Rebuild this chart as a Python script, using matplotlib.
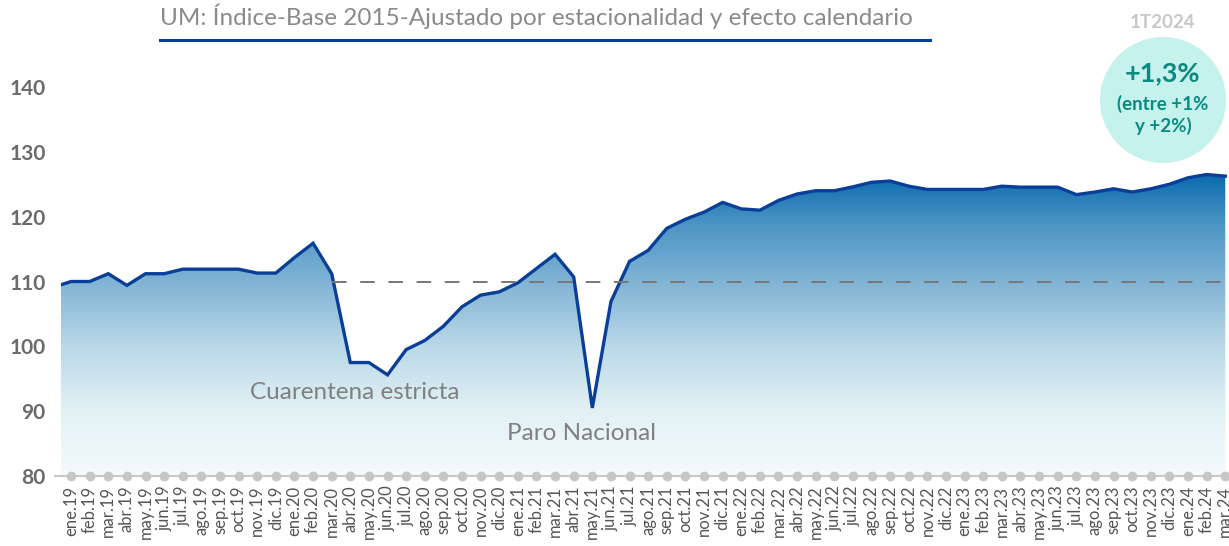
import numpy as np
import matplotlib
matplotlib.use("Agg")
import matplotlib.pyplot as plt
from matplotlib.colors import LinearSegmentedColormap
from matplotlib.patches import Ellipse

months = ["ene", "feb", "mar", "abr", "may", "jun", "jul", "ago", "sep", "oct", "nov", "dic"]
labels = [f"{m}.{y}" for y in ["19", "20", "21", "22", "23", "24"] for m in months][:63]

values = [110.0, 110.0, 111.2, 109.4, 111.2, 111.2, 111.9, 111.9, 111.9, 111.9, 111.3, 111.3,
          113.7, 115.9, 111.2, 97.5, 97.5, 95.6, 99.5, 100.9, 103.1, 106.1, 107.9, 108.4,
          109.8, 112.0, 114.2, 110.7, 90.5, 106.9, 113.1, 114.8, 118.2, 119.6, 120.7, 122.2,
          121.2, 121.0, 122.5, 123.5, 124.0, 124.0, 124.6, 125.3, 125.5, 124.7, 124.2, 124.2,
          124.2, 124.2, 124.7, 124.55, 124.55, 124.55, 123.4, 123.8, 124.3, 123.8, 124.3, 125.0,
          126.0, 126.5, 126.25]
edge_left = 109.5   # value where the line meets the left edge of the plot
ref_level = 110

yticks = [80, 90, 100, 110, 120, 130, 140]

fig = plt.figure(figsize=(12.29, 5.46), dpi=100)
ax = fig.add_axes([61 / 1229, 1 - 476 / 546, 1 - 61 / 1229, (476 - 87) / 546])

x0, x1 = -0.54, 62.2
xs = np.concatenate([[x0], np.arange(len(values))])
ys = np.concatenate([[edge_left], values])

# gradient area
cmap = LinearSegmentedColormap.from_list("area", [
    (0.0, "#f4fbfb"), (0.2, "#e2f1f4"), (0.4, "#b9d8e8"),
    (0.6, "#80b3d4"), (0.78, "#4a94c4"), (0.93, "#0a6aad"), (1.0, "#0565a9")])
grad = np.linspace(0, 1, 256).reshape(-1, 1)
poly = ax.fill_between(xs, 80, ys, facecolor="none", edgecolor="none")
im = ax.imshow(grad, extent=[x0, x1, 80, 130], origin="lower", aspect="auto",
               cmap=cmap, zorder=1)
im.set_clip_path(poly.get_paths()[0], transform=ax.transData)

ax.plot(xs, ys, color="#0a3f99", lw=2.4, zorder=3, solid_joinstyle="miter")

ax.hlines(ref_level, 14, x1, colors="#777777", linestyles=(0, (7.5, 7)), lw=1.4, zorder=4)

ax.plot([x0 - 0.3, x1], [80, 80], color="#c8c8c8", lw=1.5, zorder=4, clip_on=False)
ax.plot(np.arange(len(values)), [80] * len(values), "o", color="#c6c6c6", ms=6,
        zorder=5, clip_on=False)

ax.set_xlim(x0, x1)
ax.set_ylim(80, 140)
ax.set_yticks(yticks)
ax.set_yticklabels([str(v) for v in yticks], fontsize=15, fontweight="bold",
                   color="#6b6b6b", family="Lato")
ax.set_xticks(np.arange(len(labels)))
ax.set_xticklabels(labels, rotation=90, fontsize=12, color="#555555", family="Lato")
ax.tick_params(axis="both", length=0)
ax.tick_params(axis="y", pad=11)
ax.tick_params(axis="x", pad=7)
for s in ax.spines.values():
    s.set_visible(False)
ax.patch.set_alpha(0)

ax.text(9.6, 92.9, "Cuarentena estricta", fontsize=17.5, color="#808080",
        family="Lato", va="center", ha="left")
ax.text(23.4, 86.5, "Paro Nacional", fontsize=17.5, color="#808080",
        family="Lato", va="center", ha="left")

# title and rule
fig.text(160 / 1229, 1 - 16 / 546, "UM: Índice-Base 2015-Ajustado por estacionalidad y efecto calendario",
         fontsize=17.5, color="#8a8a8a", family="Lato", ha="left", va="center")
fig.add_artist(plt.Line2D([160 / 1229, 930 / 1229], [1 - 40 / 546] * 2, color="#0a3f99",
                          lw=2.2, transform=fig.transFigure))

# quarter bubble
cx, cy, r = 1163, 100, 63
fig.add_artist(Ellipse((cx / 1229, 1 - cy / 546), 2 * r / 1229, 2 * r / 546,
                       transform=fig.transFigure, facecolor="#c6f2ee", edgecolor="none", zorder=10))
fig.text(cx / 1229, 1 - 22 / 546, "1T2024", fontsize=13.5, fontweight="bold", color="#c8c8c8",
         family="Lato", ha="center", va="center")
fig.text(cx / 1229, 1 - 73 / 546, "+1,3%", fontsize=19.5, fontweight="bold", color="#0b8a80",
         family="Lato", ha="center", va="center", zorder=11)
fig.text(cx / 1229, 1 - 104 / 546, "(entre +1%", fontsize=13.5, fontweight="bold", color="#0b8a80",
         family="Lato", ha="center", va="center", zorder=11)
fig.text(cx / 1229, 1 - 126 / 546, "y +2%)", fontsize=13.5, fontweight="bold", color="#0b8a80",
         family="Lato", ha="center", va="center", zorder=11)

fig.savefig("out.png", dpi=100)
